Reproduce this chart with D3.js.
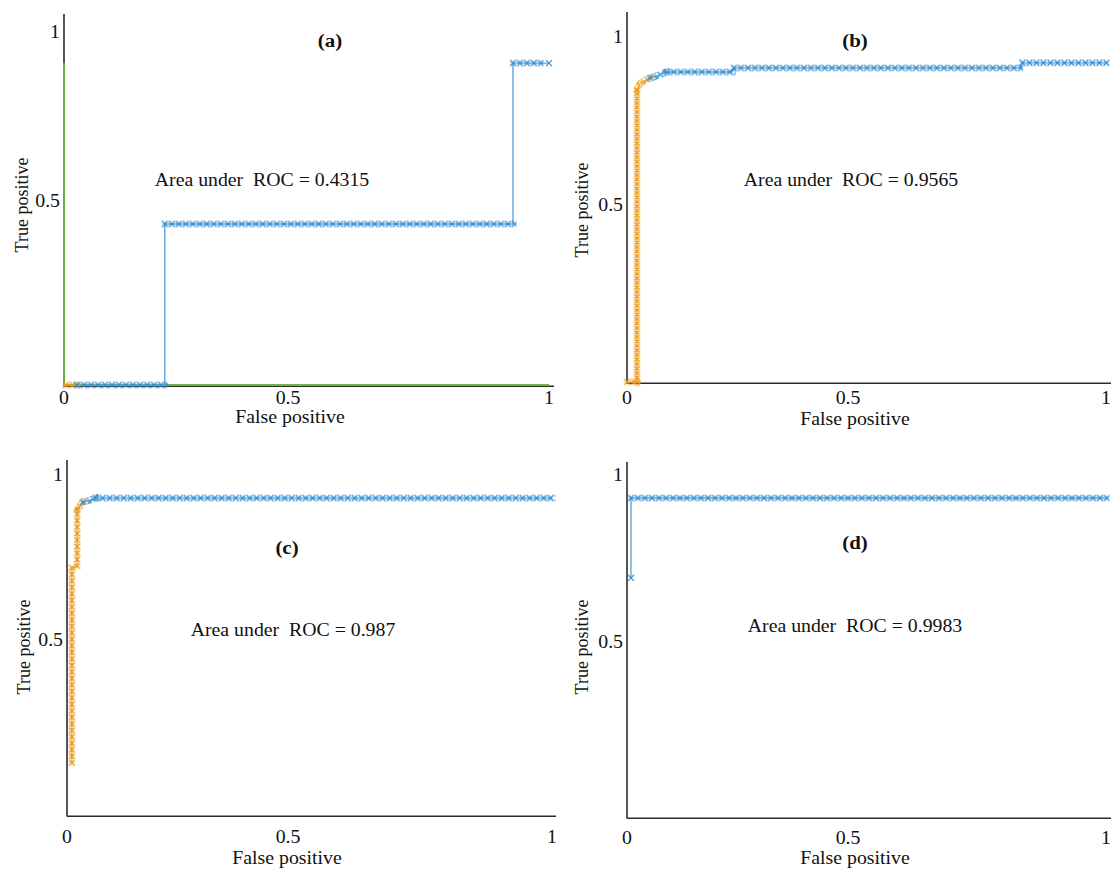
<!DOCTYPE html>
<html>
<head>
<meta charset="utf-8">
<script src="https://cdn.jsdelivr.net/npm/d3@7"></script>
<style>
  html, body { margin: 0; padding: 0; background: #fff; }
  svg { display: block; }
  text { font-family: "Liberation Serif", "Times New Roman", serif; fill: #111; }
</style>
</head>
<body>
<svg id="chart" width="1111" height="871"></svg>
<script>
// ---- data -------------------------------------------------------------
const panelTitles = ["(a)", "(b)", "(c)", "(d)"];
const aucValues = [0.4315, 0.9565, 0.987, 0.9983];
const xTicks = [0, 0.5, 1];
const yTicks = [0.5, 1];
const xAxisTitle = "False positive";
const yAxisTitle = "True positive";

// ROC curve vertices as [false positive rate, true positive rate]
const greenA  = [[0, 0.908], [0, 0], [1, 0]];
const orangeA = [[0, 0], [0.029, 0]];
const blueA   = [[0.029, 0], [0.225, 0], [0.225, 0.4375], [0.931, 0.4375], [0.931, 0.908], [1, 0.908]];

const orangeB = [[0, 0], [0.0226, 0], [0.0226, 0.842], [0.03, 0.863], [0.052, 0.878]];
const blueB   = [[0.052, 0.878], [0.059, 0.88], [0.09, 0.896], [0.238, 0.896], [0.242, 0.908],
                 [0.833, 0.908], [0.838, 0.923], [1, 0.923]];

const orangeC = [[0.011, 0.149], [0.011, 0.718], [0.023, 0.724], [0.023, 0.894], [0.036, 0.918]];
const blueC   = [[0.036, 0.918], [0.052, 0.924], [0.065, 0.93], [1, 0.93]];

const blueD   = [[0.009, 0.692], [0.009, 0.931], [1, 0.931]];

// stretches of the curves carrying threshold markers
const orangeMarksA = [[[0.004, 0], [0.029, 0]]];
const blueMarksA   = [[[0.029, 0], [0.225, 0]], [[0.225, 0.4375], [0.931, 0.4375]], [[0.931, 0.908], [0.983, 0.908]]];
const blueDotsA    = [[1, 0.908]];

const orangeMarksB = [[[0, 0], [0.0226, 0]], [[0.0226, 0], [0.0226, 0.842]], [[0.0226, 0.842], [0.03, 0.863], [0.052, 0.878]]];
const blueMarksB   = [[[0.052, 0.878], [0.059, 0.88], [0.09, 0.896]], [[0.09, 0.896], [0.238, 0.896]],
                      [[0.242, 0.908], [0.833, 0.908]], [[0.838, 0.923], [1, 0.923]]];
const blueDotsB    = [];

const orangeMarksC = [[[0.011, 0.149], [0.011, 0.718]], [[0.023, 0.724], [0.023, 0.894]], [[0.023, 0.894], [0.036, 0.918]]];
const blueMarksC   = [[[0.036, 0.918], [0.052, 0.924], [0.065, 0.93]], [[0.065, 0.93], [1, 0.93]]];
const blueDotsC    = [];

const orangeMarksD = [];
const blueMarksD   = [[[0.009, 0.931], [1, 0.931]]];
const blueDotsD    = [[0.009, 0.692]];

// ---- styling / layout -------------------------------------------------
const COLORS = { blue: "#5fa6dc", blueMark: "#2f8bd0", orange: "#f2a52d", orangeMark: "#eb9a1c", green: "#6cb843", axis: "#2b2b2b" };
const FONT = 18, STRETCH = 1.1;

const panels = [
  { title: panelTitles[0], auc: aucValues[0], green: greenA, orange: orangeA, blue: blueA,
    orangeMarks: orangeMarksA, blueMarks: blueMarksA, blueDots: blueDotsA,
    xr: [64, 288, 549], yr: [385, 201, 32], top: 14, right: 554, xTickDy: 13,
    titlePos: [330, 40], aucPos: [262, 180], xTitlePos: [290, 417], yTitlePos: [22, 205], orangeStep: 6 },
  { title: panelTitles[1], auc: aucValues[1], green: null, orange: orangeB, blue: blueB,
    orangeMarks: orangeMarksB, blueMarks: blueMarksB, blueDots: blueDotsB,
    xr: [627, 848, 1106], yr: [382, 205, 37], top: 12, right: 1111, xTickDy: 16,
    titlePos: [855, 40], aucPos: [851, 180], xTitlePos: [855, 419], yTitlePos: [582, 210], orangeStep: 4.5 },
  { title: panelTitles[2], auc: aucValues[2], green: null, orange: orangeC, blue: blueC,
    orangeMarks: orangeMarksC, blueMarks: blueMarksC, blueDots: blueDotsC,
    xr: [67, 288, 552], yr: [815, 640, 475], top: 460, right: 556, xTickDy: 22,
    titlePos: [287, 547], aucPos: [293, 630], xTitlePos: [287, 858], yTitlePos: [24, 647], orangeStep: 6.5 },
  { title: panelTitles[3], auc: aucValues[3], green: null, orange: null, blue: blueD,
    orangeMarks: orangeMarksD, blueMarks: blueMarksD, blueDots: blueDotsD,
    xr: [627, 848, 1106], yr: [817, 642, 475], top: 462, right: 1111, xTickDy: 21,
    titlePos: [855, 542], aucPos: [855, 626], xTitlePos: [855, 858], yTitlePos: [582, 647], orangeStep: 6 }
];

const svg = d3.select("#chart");
const defs = svg.append("defs");
let patternId = 0;

// a repeating "x" tile anchored on a stretch's first point
function crossPattern(x0, y0, w, h, color) {
  const id = "xmark" + (patternId++);
  const p = defs.append("pattern")
    .attr("id", id)
    .attr("patternUnits", "userSpaceOnUse")
    .attr("width", w).attr("height", h)
    .attr("patternTransform", `translate(${x0 - w / 2},${y0 - h / 2})`);
  p.append("path")
    .attr("d", `M0.6,0.6L${w - 0.6},${h - 0.6}M${w - 0.6},0.6L0.6,${h - 0.6}`)
    .attr("stroke", color).attr("stroke-width", 1.35).attr("fill", "none");
  return id;
}

function stretchedText(g, x, y, str, opts = {}) {
  return g.append("text")
    .attr("transform", `translate(${x},${y}) scale(${STRETCH},1)`)
    .attr("text-anchor", opts.anchor || "middle")
    .attr("dominant-baseline", "central")
    .style("font-size", (opts.size || FONT) + "px")
    .style("font-weight", opts.bold ? "bold" : "normal")
    .style("white-space", "pre")
    .text(str);
}

panels.forEach(p => {
  const g = svg.append("g");
  const x = d3.scaleLinear().domain(xTicks).range(p.xr);
  const y = d3.scaleLinear().domain(xTicks).range(p.yr);
  const line = d3.line().x(d => x(d[0])).y(d => y(d[1]));

  // axes (lines run a little beyond the unit square)
  g.append("line").attr("x1", p.xr[0]).attr("x2", p.xr[0]).attr("y1", p.top).attr("y2", p.yr[0] + 1.5)
    .attr("stroke", COLORS.axis).attr("stroke-width", 1.6);
  g.append("line").attr("x1", p.xr[0]).attr("x2", p.right).attr("y1", p.yr[0] + 1.2).attr("y2", p.yr[0] + 1.2)
    .attr("stroke", COLORS.axis).attr("stroke-width", 1.6);

  const xAxis = d3.axisBottom(x).tickValues(xTicks).tickSize(0).tickFormat(d3.format("~g"));
  const xg = g.append("g").attr("transform", `translate(0,${p.yr[0]})`).call(xAxis);
  xg.select(".domain").remove();
  xg.selectAll("text").remove();
  xTicks.forEach(t => stretchedText(g, x(t), p.yr[0] + p.xTickDy, d3.format("~g")(t)));

  const yAxis = d3.axisLeft(y).tickValues(yTicks).tickSize(0).tickFormat(d3.format("~g"));
  const yg = g.append("g").attr("transform", `translate(${p.xr[0]},0)`).call(yAxis);
  yg.select(".domain").remove();
  yg.selectAll("text").remove();
  yTicks.forEach(t => stretchedText(g, p.xr[0] - 4, y(t), d3.format("~g")(t), { anchor: "end" }));

  // curves
  if (p.green) {
    g.append("path").attr("d", line(p.green)).attr("fill", "none")
      .attr("stroke", COLORS.green).attr("stroke-width", 1.8);
  }
  if (p.orange) {
    g.append("path").attr("d", line(p.orange)).attr("fill", "none")
      .attr("stroke", COLORS.orange).attr("stroke-width", 1.4);
  }
  g.append("path").attr("d", line(p.blue)).attr("fill", "none")
    .attr("stroke", COLORS.blue).attr("stroke-width", 1.4);

  // threshold markers
  const drawMarks = (runs, color, step) => {
    runs.forEach(run => {
      const x0 = x(run[0][0]), y0 = y(run[0][1]);
      const vertical = Math.abs(x(run[run.length - 1][0]) - x0) < Math.abs(y(run[run.length - 1][1]) - y0);
      const id = vertical ? crossPattern(x0, y0, 7, step, color) : crossPattern(x0, y0, 7, 7, color);
      g.append("path").attr("d", line(run)).attr("fill", "none")
        .attr("stroke", `url(#${id})`).attr("stroke-width", 7).attr("stroke-linecap", "square");
    });
  };
  drawMarks(p.orangeMarks, COLORS.orangeMark, p.orangeStep);
  drawMarks(p.blueMarks, COLORS.blueMark, 7);
  p.blueDots.forEach(d => {
    g.append("path").attr("transform", `translate(${x(d[0])},${y(d[1])})`)
      .attr("d", "M-3,-3L3,3M3,-3L-3,3").attr("stroke", COLORS.blueMark).attr("stroke-width", 1.2);
  });

  // labels
  stretchedText(g, p.titlePos[0], p.titlePos[1], p.title, { bold: true, size: 19 });
  stretchedText(g, p.aucPos[0], p.aucPos[1], `Area under  ROC = ${p.auc}`);
  stretchedText(g, p.xTitlePos[0], p.xTitlePos[1], xAxisTitle);
  g.append("text")
    .attr("transform", `translate(${p.yTitlePos[0]},${p.yTitlePos[1]}) rotate(-90)`)
    .attr("text-anchor", "middle").attr("dominant-baseline", "central")
    .style("font-size", FONT + "px")
    .text(yAxisTitle);
});
</script>
</body>
</html>
